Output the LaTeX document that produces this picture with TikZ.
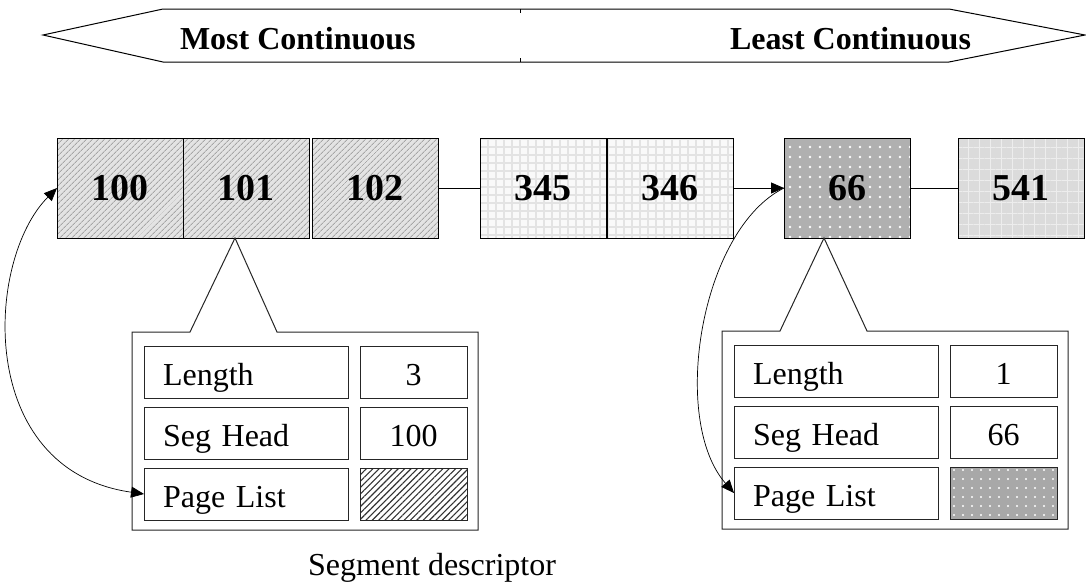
\documentclass[tikz,border=0pt]{standalone}
\usepackage{fontspec}
\setmainfont{Liberation Serif}
\usetikzlibrary{patterns.meta,arrows.meta,calc}

\begin{document}
\begin{tikzpicture}[x=1pt,y=-1pt,
  every node/.style={outer sep=0pt,inner sep=0pt},
  banner/.style={draw=black,line width=1pt,fill=white},
  bigbold/.style={font=\fontsize{32}{32}\selectfont\bfseries},
  page/.style={draw=black,line width=1pt,minimum width=126pt,minimum height=100pt,
    font=\fontsize{38}{38}\selectfont\bfseries},
  hatchpage/.style={page,preaction={fill=gray!22},
    pattern={Lines[angle=45,distance=4pt,line width=0.9pt]},pattern color=gray!70},
  gridpage/.style={page,preaction={fill=gray!5},
    pattern={Hatch[angle=0,distance=8pt,line width=1.8pt]},pattern color=gray!22},
  dotpage/.style={page,preaction={fill=gray!62},
    pattern={Dots[distance=10pt,radius=1.3pt]},pattern color=white},
  greypage/.style={page,preaction={fill=gray!28},
    pattern={Hatch[angle=0,distance=11pt,line width=0.8pt]},pattern color=gray!14},
  link/.style={line width=1pt},
  tip/.style={-{Triangle[length=13pt,width=11pt]}},
  curve/.style={line width=0.7pt},
  frame/.style={draw=black!85,line width=1pt,fill=white},
  cell/.style={draw=black!85,line width=1pt,minimum height=52pt,
    text height=27pt,text depth=0pt,font=\fontsize{32}{32}\selectfont},
  lab/.style={cell,minimum width=204pt,text width=166pt,inner xsep=19pt,align=left},
  val/.style={cell,minimum width=107pt},
  hatchval/.style={val,preaction={fill=white},
    pattern={Lines[angle=45,distance=4.5pt,line width=1.1pt]},pattern color=black!80},
  dotval/.style={val,preaction={fill=gray!68},
    pattern={Dots[distance=9pt,radius=1.2pt]},pattern color=white},
  caption/.style={font=\fontsize{32}{32}\selectfont}
]
\useasboundingbox (0,0) rectangle (1086,587);

% continuity scale
\draw[banner] (43,35) -- (163,9) -- (949,9) -- (1085,35) -- (949,62) -- (163,62) -- cycle;
\draw[line width=1pt] (520,9) -- (520,13) (520,62) -- (520,58);
\node[bigbold,anchor=base west] (most) at (180,49) {Most Continuous};
\node[bigbold,anchor=base east] (least) at (971,49) {Least Continuous};

% pages in memory
\node[hatchpage] (b100) at (120,188) {100};
\node[hatchpage] (b101) at (246,188) {101};
\node[hatchpage] (b102) at (375,188) {102};
\node[gridpage]  (b345) at (543,188) {345};
\node[gridpage]  (b346) at (670,188) {346};
\node[dotpage]   (b66)  at (847,188) {66};
\node[greypage]  (b541) at (1021,188) {541};

\draw[link] (b102.east) -- (b345.west);
\draw[link,tip] (b346.east) -- (b66.west);
\draw[link] (b66.east) -- (b541.west);

% segment descriptor of the first segment
\coordinate (fa) at (132,332);
\coordinate (apA) at ($(b101.south)+(-11,0)$);
\draw[frame] (fa) -- ++(58,0) -- (apA) -- ($(fa)+(145,0)$) -- ++(201,0)
  -- ++(0,198) -- ++(-346,0) -- cycle;
\node[lab] (lenA) at ($(fa)+(114,40)$) {Length};
\node[val] (lenAv) at ($(fa)+(281.5,40)$) {3};
\node[lab] (shA) at ($(fa)+(114,101)$) {Seg Head};
\node[val] (shAv) at ($(fa)+(281.5,101)$) {100};
\node[lab] (plA) at ($(fa)+(114,162)$) {Page List};
\node[hatchval] (plAv) at ($(fa)+(281.5,162)$) {};

% segment descriptor of the second segment
\coordinate (fb) at (722,331);
\coordinate (apB) at ($(b66.south)+(-23,0)$);
\draw[frame] (fb) -- ++(58,0) -- (apB) -- ($(fb)+(145,0)$) -- ++(201,0)
  -- ++(0,198) -- ++(-346,0) -- cycle;
\node[lab] (lenB) at ($(fb)+(114,40)$) {Length};
\node[val] (lenBv) at ($(fb)+(281.5,40)$) {1};
\node[lab] (shB) at ($(fb)+(114,101)$) {Seg Head};
\node[val] (shBv) at ($(fb)+(281.5,101)$) {66};
\node[lab] (plB) at ($(fb)+(114,162)$) {Page List};
\node[dotval] (plBv) at ($(fb)+(281.5,162)$) {};

% page list pointers
\draw[curve,{Triangle[length=13pt,width=11pt]}-{Triangle[length=13pt,width=11pt]}]
  (plA.west) .. controls (-25,470) and (-15,260) .. (b100.west);
\draw[curve,tip] (b66.west) .. controls (700,230) and (670,420) .. (plB.west);

\node[caption,anchor=base west] (cap) at (308,575) {Segment descriptor};
\end{tikzpicture}
\end{document}
